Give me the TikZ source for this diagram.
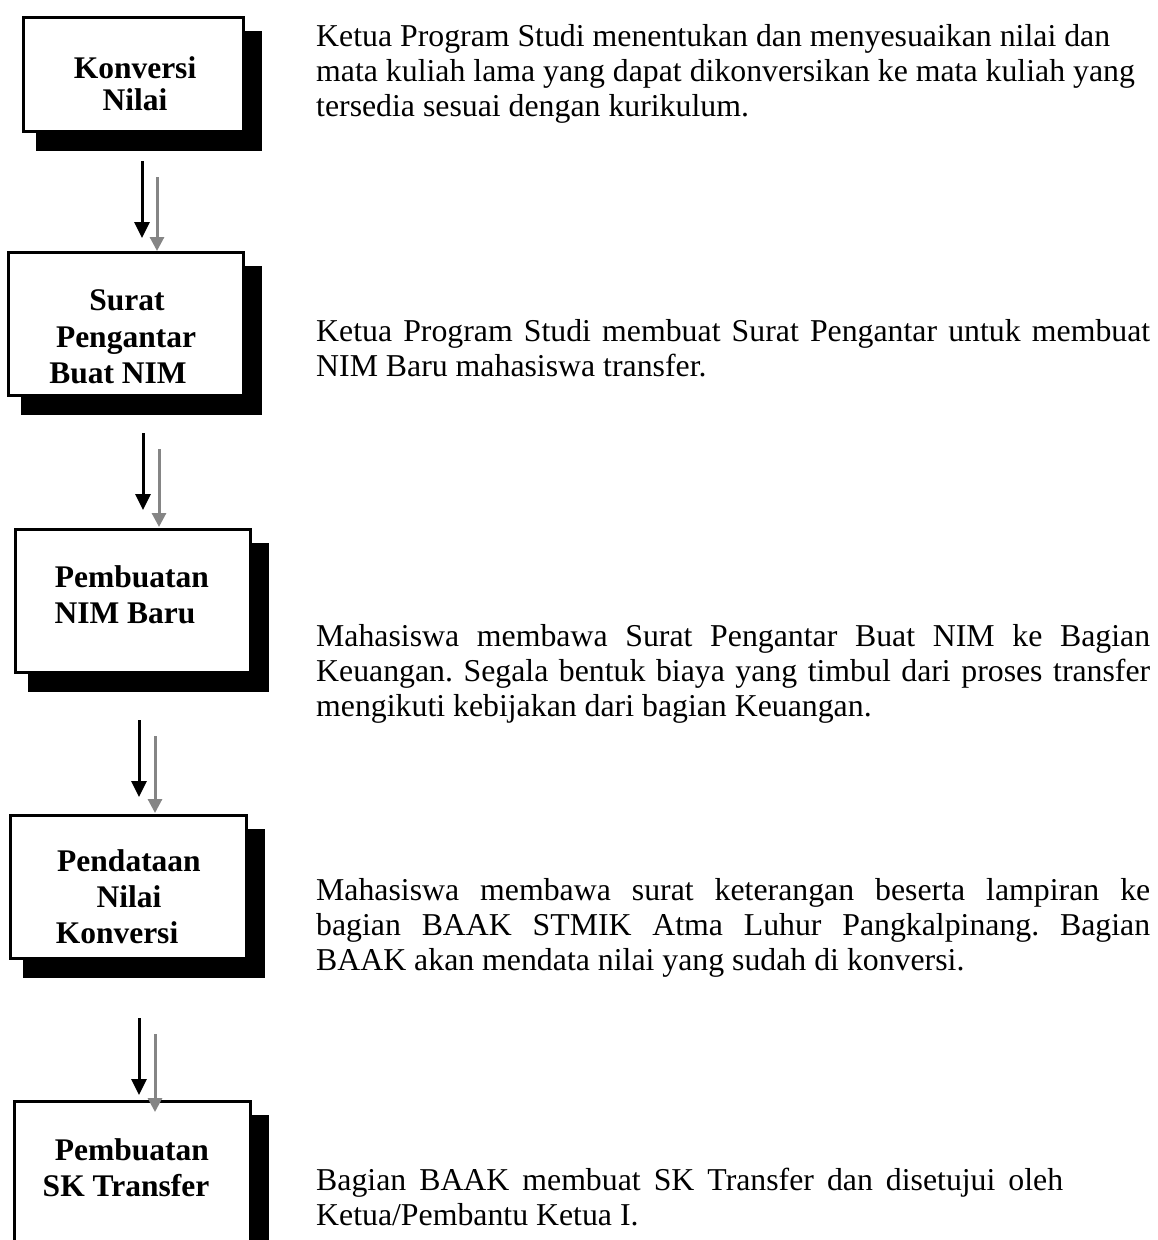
\documentclass[tikz,border=0pt]{standalone}
\usepackage{fontspec}
\setmainfont{Liberation Serif}
\usetikzlibrary{arrows.meta,backgrounds}
\frenchspacing
\tikzset{
  procbox/.style={rectangle, draw=black, line width=3pt, fill=white, inner sep=0pt},
  shadowfill/.style={fill=black},
  boxtxt/.style={anchor=base, inner sep=0pt, font=\bfseries\fontsize{31.5}{36}\selectfont},
  paratxt/.style={anchor=base west, inner sep=0pt, font=\fontsize{31.8}{35}\selectfont},
  blackarrow/.style={draw=black, line width=3pt, -{Triangle[width=15pt,length=16pt]}},
  greyarrow/.style={draw=arrowgrey, line width=3pt, -{Triangle[width=14pt,length=14pt]}},
}
\definecolor{arrowgrey}{HTML}{858585}
\begin{document}
\begin{tikzpicture}[x=1pt,y=-1pt]
\useasboundingbox (0,0) rectangle (1158,1240);

% boxes
\node[procbox, minimum width=220pt, minimum height=114pt] (b1) at (133.5,74.5) {};
\node[procbox, minimum width=235pt, minimum height=143pt] (b2) at (126,324) {};
\node[procbox, minimum width=235pt, minimum height=143pt] (b3) at (133,601) {};
\node[procbox, minimum width=236pt, minimum height=143pt] (b4) at (128.5,887) {};
\node[procbox, minimum width=236pt, minimum height=157pt] (b5) at (132.5,1180) {};

\begin{scope}[on background layer]
  \foreach \b in {b1,b2,b3,b4,b5}{
    \fill[shadowfill] ([shift={(14,15)}]\b.north west) rectangle ([shift={(17,18)}]\b.south east);
  }
\end{scope}

% box texts
\node[boxtxt] (t1a) at (135,78) {Konversi};
\node[boxtxt] (t1b) at (135,110) {Nilai};
\node[boxtxt] (t2a) at (127,310) {Surat};
\node[boxtxt] (t2b) at (126,347) {Pengantar};
\node[boxtxt] (t2c) at (118,383) {Buat NIM};
\node[boxtxt] (t3a) at (132,587) {Pembuatan};
\node[boxtxt] (t3b) at (125,623) {NIM Baru};
\node[boxtxt] (t4a) at (129,871) {Pendataan};
\node[boxtxt] (t4b) at (129,907) {Nilai};
\node[boxtxt] (t4c) at (117,943) {Konversi};
\node[boxtxt] (t5a) at (132,1160) {Pembuatan};
\node[boxtxt] (t5b) at (126,1196) {SK Transfer};

% descriptions
\node[paratxt] (p1a) at (316,46) {Ketua Program Studi menentukan dan menyesuaikan nilai dan};
\node[paratxt] (p1b) at (316,81) {mata kuliah lama yang dapat dikonversikan ke mata kuliah yang};
\node[paratxt] (p1c) at (316,116) {tersedia sesuai dengan kurikulum.};

\node[paratxt] (p2a) at (316,341) {\makebox[834pt][s]{Ketua Program Studi membuat Surat Pengantar untuk membuat}};
\node[paratxt] (p2b) at (316,376) {NIM Baru mahasiswa transfer.};

\node[paratxt] (p3a) at (316,646) {\makebox[834pt][s]{Mahasiswa membawa Surat Pengantar Buat NIM ke Bagian}};
\node[paratxt] (p3b) at (316,681) {\makebox[834pt][s]{Keuangan. Segala bentuk biaya yang timbul dari proses transfer}};
\node[paratxt] (p3c) at (316,716) {mengikuti kebijakan dari bagian Keuangan.};

\node[paratxt] (p4a) at (316,900) {\makebox[834pt][s]{Mahasiswa membawa surat keterangan beserta lampiran ke}};
\node[paratxt] (p4b) at (316,935) {\makebox[834pt][s]{bagian BAAK STMIK Atma Luhur Pangkalpinang. Bagian}};
\node[paratxt] (p4c) at (316,970) {BAAK akan mendata nilai yang sudah di konversi.};

\node[paratxt] (p5a) at (316,1190) {\makebox[747pt][s]{Bagian BAAK membuat SK Transfer dan disetujui oleh}};
\node[paratxt] (p5b) at (316,1225) {Ketua/Pembantu Ketua I.};

% arrow end points
\coordinate (k1s) at (142,161);  \coordinate (k1e) at (142,238);
\coordinate (g1s) at (157,177);  \coordinate (g1e) at (157,251);
\coordinate (k2s) at (143,433);  \coordinate (k2e) at (143,510);
\coordinate (g2s) at (159,449);  \coordinate (g2e) at (159,527);
\coordinate (k3s) at (139,720);  \coordinate (k3e) at (139,797);
\coordinate (g3s) at (155,736);  \coordinate (g3e) at (155,813);
\coordinate (k4s) at (139,1018); \coordinate (k4e) at (139,1095);
\coordinate (g4s) at (155,1034); \coordinate (g4e) at (155,1112);

\draw[blackarrow] (k1s) -- (k1e);
\draw[greyarrow] (g1s) -- (g1e);
\draw[blackarrow] (k2s) -- (k2e);
\draw[greyarrow] (g2s) -- (g2e);
\draw[blackarrow] (k3s) -- (k3e);
\draw[greyarrow] (g3s) -- (g3e);
\draw[blackarrow] (k4s) -- (k4e);
\draw[greyarrow] (g4s) -- (g4e);
\end{tikzpicture}
\end{document}
